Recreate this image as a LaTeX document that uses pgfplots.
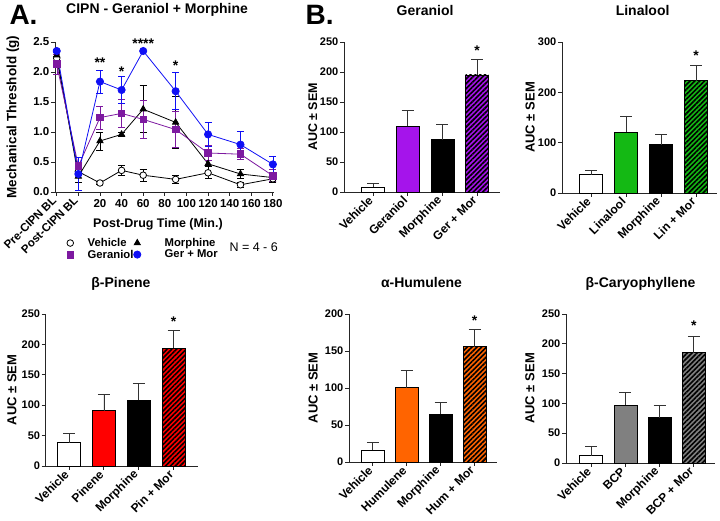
\documentclass[border=0pt]{standalone}
\usepackage{fontspec}
\setmainfont{Liberation Sans}
\usepackage{pgfplots}
\pgfplotsset{compat=1.18}
\usetikzlibrary{patterns.meta}

\definecolor{apurple}{RGB}{125,25,160}
\definecolor{ablue}{RGB}{15,15,245}
\definecolor{gerc}{RGB}{165,20,235}
\definecolor{linc}{RGB}{20,185,20}
\definecolor{pinc}{RGB}{255,0,0}
\definecolor{humc}{RGB}{255,100,0}
\definecolor{bcpc}{RGB}{128,128,128}

\pgfplotsset{
  base/.style={
    scale only axis, anchor=south west,
    axis x line*=bottom, axis y line*=left,
    axis line style={line width=0.9pt, black!85},
    tick align=outside, major tick length=4pt,
    every tick/.style={line width=0.9pt, black!85},
    /pgf/number format/assume math mode=true,
    tick label style={font=\bfseries\fontsize{11}{13}\selectfont},
    yticklabel style={inner xsep=1.5pt},
    label style={font=\bfseries\fontsize{13}{15}\selectfont},
    title style={font=\bfseries\fontsize{14}{16}\selectfont, anchor=center},
    clip=false, scaled y ticks=false,
  },
  barpanel/.style={base, xtick={0,1,2,3}, ymin=0,
    xticklabel style={rotate=45, anchor=east, font=\bfseries\fontsize{12}{14}\selectfont},
    ylabel={AUC ± SEM}, ylabel style={anchor=center},
  },
  bst/.style={ybar, bar width=23pt, draw=black, line width=0.8pt,
    error bars/y dir=plus, error bars/y explicit,
    error bars/error bar style={line width=0.8pt, black!80},
    error bars/error mark options={rotate=90, mark size=6pt, line width=0.8pt, black!80}},
  hatch/.style={postaction={pattern color=black, pattern={Lines[angle=45,distance=3.4pt,line width=1.6pt]}, draw=black, line width=0.8pt}},
  lst/.style={line width=0.8pt, error bars/y dir=both, error bars/y explicit,
    error bars/error mark options={rotate=90, mark size=3.5pt, line width=0.7pt}},
  legst/.style={legend cell align=left,
    legend style={draw=none, fill=none, font=\bfseries\fontsize{11.3}{13}\selectfont,
      anchor=north west, row sep=-2pt}},
}

\begin{document}
\begin{tikzpicture}
\useasboundingbox (0pt,0pt) rectangle (720pt,521pt);

\node[anchor=west, font=\bfseries\fontsize{28}{30}\selectfont] at (6pt,506pt) {A.};
\node[anchor=west, font=\bfseries\fontsize{28}{30}\selectfont] at (302pt,506pt) {B.};

% ---------------- Panel A ----------------
\begin{axis}[base, at={(55pt,329pt)}, width=219pt, height=150pt,
  xmin=-21.6, xmax=181, ymin=0, ymax=2.5,
  ytick={0,0.5,1,1.5,2,2.5},
  tick label style={font=\bfseries\fontsize{11.5}{13}\selectfont},
  yticklabel style={/pgf/number format/fixed, /pgf/number format/fixed zerofill, /pgf/number format/precision=1},
  xtick={20,40,60,80,100,120,140,160,180},
  extra x ticks={-20,0}, extra x tick labels={Pre-CIPN BL,Post-CIPN BL},
  extra x tick style={tick label style={rotate=45, anchor=east, font=\bfseries\fontsize{11.5}{13}\selectfont}},
  title={CIPN - Geraniol + Morphine}, title style={at={(axis description cs:0.466,1.175)}},
  xlabel={Post-Drug Time (Min.)}, xlabel style={at={(axis description cs:0.47,-0.213)}, anchor=center, font=\bfseries\fontsize{12.5}{14}\selectfont},
  ylabel={Mechanical Threshold (g)}, ylabel style={at={(axis description cs:-0.192,0.5)}, anchor=center, font=\bfseries\fontsize{13.5}{15}\selectfont},
  legst, legend style={at={(axis description cs:0.035,-0.28)}},
  legend image code/.code={\draw[#1] plot coordinates {(4pt,0pt)}; \path (0pt,0pt) (19pt,0pt);},
]
\addplot[lst, black, mark=*, mark size=3.3pt, mark options={fill=white, solid}] coordinates {
 (-20,2.23) +- (0,0.03) (0,0.34) +- (0,0.05) (20,0.15) +- (0,0.02) (40,0.36) +- (0,0.09)
 (60,0.28) +- (0,0.10) (90,0.21) +- (0,0.06) (120,0.32) +- (0,0.10) (150,0.12) +- (0,0.04) (180,0.22) +- (0,0.05)};
\addlegendentry{Vehicle}
\addplot[lst, black, mark=triangle*, mark size=3.6pt, mark options={solid}, forget plot] coordinates {
 (-20,2.28) +- (0,0.05) (0,0.26) +- (0,0.10) (20,0.85) +- (0,0.15) (40,0.96) +- (0,0.03)
 (60,1.38) +- (0,0.39) (90,1.16) +- (0,0.43) (120,0.47) +- (0,0.05) (150,0.30) +- (0,0.08) (180,0.24) +- (0,0.08)};
\addplot[lst, apurple, mark=square*, mark size=3.3pt, mark options={solid}] coordinates {
 (-20,2.13) +- (0,0.17) (0,0.43) +- (0,0.15) (20,1.24) +- (0,0.19) (40,1.31) +- (0,0.24)
 (60,1.21) +- (0,0.31) (90,1.04) +- (0,0.30) (120,0.65) +- (0,0.13) (150,0.63) +- (0,0.09) (180,0.27) +- (0,0.10)};
\addlegendentry{Geraniol}
\addplot[lst, ablue, mark=*, mark size=3.6pt, mark options={solid}, forget plot] coordinates {
 (-20,2.35) +- (0,0.02) (0,0.30) +- (0,0.28) (20,1.84) +- (0,0.19) (40,1.70) +- (0,0.22)
 (60,2.35) +- (0,0.0) (90,1.68) +- (0,0.31) (120,0.96) +- (0,0.20) (150,0.79) +- (0,0.22) (180,0.46) +- (0,0.13)};
\node[font=\bfseries\fontsize{14}{14}\selectfont] at (axis cs:20,2.15) {**};
\node[font=\bfseries\fontsize{14}{14}\selectfont] at (axis cs:40,2.01) {*};
\node[font=\bfseries\fontsize{14}{14}\selectfont] at (axis cs:60,2.48) {****};
\node[font=\bfseries\fontsize{14}{14}\selectfont] at (axis cs:90,2.11) {*};
\end{axis}
% second legend column for panel A
\begin{axis}[scale only axis, anchor=south west, hide axis, at={(55pt,329pt)}, width=219pt, height=150pt,
  xmin=0, xmax=1, ymin=0, ymax=1,
  legst, legend style={at={(axis description cs:0.341,-0.28)}},
  legend image code/.code={\draw[#1] plot coordinates {(4pt,0pt)}; \path (0pt,0pt) (29pt,0pt);},
]
\addlegendimage{black, line width=0.8pt, mark=triangle*, mark size=3.6pt, mark options={solid}}
\addlegendentry{Morphine}
\addlegendimage{ablue, line width=0.8pt, mark=*, mark size=3.6pt, mark options={solid}}
\addlegendentry{Ger + Mor}
\end{axis}
\node[anchor=west, font=\fontsize{12.5}{14}\selectfont] at (226pt,274pt) {N = 4 - 6};

% ---------------- Geraniol ----------------
\begin{axis}[barpanel, at={(344pt,329pt)}, width=156pt, height=150pt,
  xmin=-0.836, xmax=3.66, ymax=250, ytick={0,50,100,150,200,250},
  xticklabels={Vehicle,Geraniol,Morphine,Ger + Mor},
  title={Geraniol}, title style={at={(axis description cs:0.52,1.167)}},
  ylabel style={at={(axis description cs:-0.2,0.5)}, font=\bfseries\fontsize{12.5}{15}\selectfont}]
\addplot[bst, fill=white] coordinates {(0,8) +- (0,6)};
\addplot[bst, fill=gerc] coordinates {(1,109.5) +- (0,27)};
\addplot[bst, fill=black] coordinates {(2,87) +- (0,26)};
\addplot[bst, fill=gerc, hatch] coordinates {(3,195) +- (0,26)};
\node[font=\bfseries\fontsize{14}{14}\selectfont] at (axis cs:3,235) {*};
\end{axis}

% ---------------- Linalool ----------------
\begin{axis}[barpanel, at={(562pt,328pt)}, width=155pt, height=151pt,
  xmin=-0.83, xmax=3.6, ymax=300, ytick={0,100,200,300},
  xticklabels={Vehicle,Linalool,Morphine,Lin + Mor},
  title={Linalool}, title style={at={(axis description cs:0.52,1.166)}},
  ylabel style={at={(axis description cs:-0.206,0.5)}}]
\addplot[bst, fill=white] coordinates {(0,36) +- (0,9)};
\addplot[bst, fill=linc] coordinates {(1,121) +- (0,32)};
\addplot[bst, fill=black] coordinates {(2,96) +- (0,20)};
\addplot[bst, fill=linc, hatch] coordinates {(3,223) +- (0,30)};
\node[font=\bfseries\fontsize{14}{14}\selectfont] at (axis cs:3,272) {*};
\end{axis}

% ---------------- beta-Pinene ----------------
\begin{axis}[barpanel, at={(45.7pt,55pt)}, width=152pt, height=152pt,
  xmin=-0.67, xmax=3.69, ymax=250, ytick={0,50,100,150,200,250},
  xticklabels={Vehicle,Pinene,Morphine,Pin + Mor},
  title={β-Pinene}, title style={at={(axis description cs:0.495,1.158)}},
  ylabel style={at={(axis description cs:-0.222,0.5)}}]
\addplot[bst, fill=white] coordinates {(0,38) +- (0,15)};
\addplot[bst, fill=pinc] coordinates {(1,91) +- (0,27.5)};
\addplot[bst, fill=black] coordinates {(2,108) +- (0,28.5)};
\addplot[bst, fill=pinc, hatch] coordinates {(3,193.5) +- (0,29.5)};
\node[font=\bfseries\fontsize{14}{14}\selectfont] at (axis cs:3,238) {*};
\end{axis}

% ---------------- alpha-Humulene ----------------
\begin{axis}[barpanel, at={(349pt,59pt)}, width=148pt, height=148pt,
  xmin=-0.7, xmax=3.66, ymax=200, ytick={0,50,100,150,200},
  xticklabels={Vehicle,Humulene,Morphine,Hum + Mor},
  title={α-Humulene}, title style={at={(axis description cs:0.49,1.169)}},
  ylabel style={at={(axis description cs:-0.243,0.5)}}]
\addplot[bst, fill=white] coordinates {(0,16) +- (0,10.5)};
\addplot[bst, fill=humc] coordinates {(1,100.4) +- (0,23.6)};
\addplot[bst, fill=black] coordinates {(2,64.6) +- (0,16.1)};
\addplot[bst, fill=humc, hatch] coordinates {(3,156) +- (0,23)};
\node[font=\bfseries\fontsize{14}{14}\selectfont] at (axis cs:3,190.5) {*};
\end{axis}

% ---------------- beta-Caryophyllene ----------------
\begin{axis}[barpanel, at={(566pt,58pt)}, width=149pt, height=149pt,
  xmin=-0.74, xmax=3.62, ymax=250, ytick={0,50,100,150,200,250},
  xticklabels={Vehicle,BCP,Morphine,BCP + Mor},
  title={β-Caryophyllene}, title style={at={(axis description cs:0.50,1.161)}},
  ylabel style={at={(axis description cs:-0.242,0.5)}}]
\addplot[bst, fill=white] coordinates {(0,12) +- (0,15.5)};
\addplot[bst, fill=bcpc] coordinates {(1,97.4) +- (0,20.6)};
\addplot[bst, fill=black] coordinates {(2,75.7) +- (0,20.1)};
\addplot[bst, fill=bcpc, hatch] coordinates {(3,185) +- (0,27)};
\node[font=\bfseries\fontsize{14}{14}\selectfont] at (axis cs:3,230) {*};
\end{axis}
\end{tikzpicture}
\end{document}
